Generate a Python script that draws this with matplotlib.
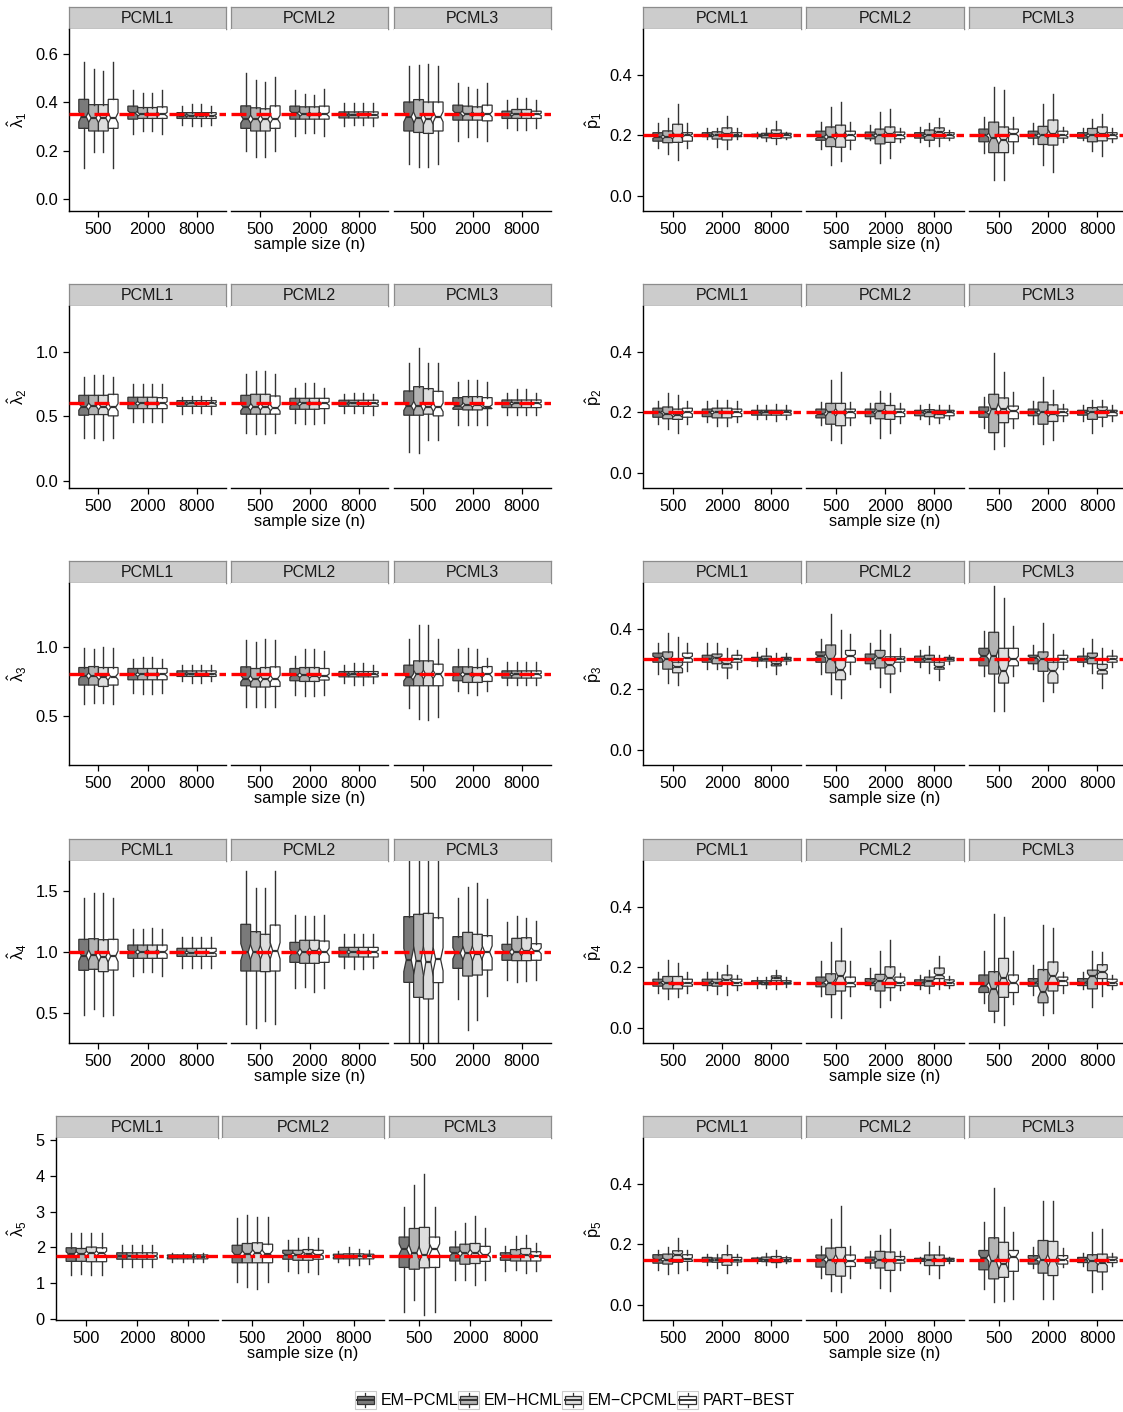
import matplotlib.pyplot as plt
import numpy as np
from matplotlib.patches import Patch, Rectangle
from matplotlib.lines import Line2D
from matplotlib.legend_handler import HandlerBase

plt.rcParams['font.family'] = ['Liberation Sans', 'DejaVu Sans']
plt.rcParams['mathtext.fontset'] = 'custom'
plt.rcParams['mathtext.rm'] = 'Liberation Sans'
plt.rcParams['mathtext.it'] = 'Liberation Sans'

methods = ['EM\u2212PCML', 'EM\u2212HCML', 'EM\u2212CPCML', 'PART\u2212BEST']
fills = ['#7a7a7a', '#b3b3b3', '#dedede', '#ffffff']
panels = ['PCML1', 'PCML2', 'PCML3']
sizes = ['500', '2000', '8000']

# each row: one (panel, n) cell, 4 boxes as (lower whisker, q1, median, q3, upper whisker)
lam1 = [
    [(0.127, 0.292, 0.34, 0.412, 0.566), (0.196, 0.281, 0.335, 0.39, 0.538), (0.196, 0.281, 0.335, 0.39, 0.531), (0.127, 0.292, 0.335, 0.412, 0.566)],
    [(0.267, 0.33, 0.355, 0.384, 0.449), (0.28, 0.333, 0.35, 0.378, 0.44), (0.28, 0.333, 0.35, 0.378, 0.44), (0.267, 0.333, 0.35, 0.381, 0.449)],
    [(0.305, 0.333, 0.345, 0.357, 0.385), (0.301, 0.333, 0.345, 0.357, 0.392), (0.301, 0.333, 0.345, 0.357, 0.392), (0.305, 0.333, 0.345, 0.357, 0.385)],
    [(0.2, 0.292, 0.33, 0.385, 0.52), (0.175, 0.281, 0.33, 0.377, 0.49), (0.175, 0.281, 0.33, 0.373, 0.484), (0.2, 0.292, 0.33, 0.385, 0.504)],
    [(0.26, 0.33, 0.355, 0.384, 0.449), (0.271, 0.33, 0.35, 0.381, 0.433), (0.271, 0.33, 0.35, 0.381, 0.429), (0.26, 0.33, 0.35, 0.384, 0.456)],
    [(0.3, 0.335, 0.347, 0.36, 0.395), (0.305, 0.335, 0.347, 0.36, 0.395), (0.305, 0.335, 0.347, 0.36, 0.395), (0.3, 0.335, 0.347, 0.36, 0.395)],
    [(0.144, 0.281, 0.34, 0.401, 0.548), (0.134, 0.275, 0.335, 0.411, 0.555), (0.134, 0.271, 0.33, 0.401, 0.559), (0.144, 0.281, 0.34, 0.401, 0.548)],
    [(0.24, 0.326, 0.355, 0.388, 0.481), (0.258, 0.326, 0.35, 0.384, 0.463), (0.258, 0.326, 0.35, 0.381, 0.456), (0.24, 0.323, 0.35, 0.388, 0.481)],
    [(0.295, 0.333, 0.348, 0.363, 0.408), (0.285, 0.333, 0.35, 0.37, 0.418), (0.285, 0.333, 0.35, 0.37, 0.418), (0.295, 0.333, 0.35, 0.363, 0.408)],
]
lam2 = [
    [(0.329, 0.509, 0.575, 0.663, 0.805), (0.329, 0.514, 0.58, 0.663, 0.823), (0.314, 0.514, 0.575, 0.663, 0.823), (0.329, 0.504, 0.57, 0.671, 0.805)],
    [(0.46, 0.56, 0.6, 0.648, 0.753), (0.46, 0.56, 0.6, 0.648, 0.753), (0.46, 0.56, 0.6, 0.648, 0.753), (0.46, 0.56, 0.6, 0.645, 0.753)],
    [(0.519, 0.578, 0.6, 0.622, 0.653), (0.525, 0.578, 0.6, 0.622, 0.66), (0.525, 0.578, 0.6, 0.622, 0.66), (0.519, 0.578, 0.6, 0.622, 0.653)],
    [(0.368, 0.517, 0.57, 0.663, 0.83), (0.36, 0.517, 0.575, 0.671, 0.851), (0.36, 0.517, 0.575, 0.671, 0.851), (0.368, 0.517, 0.565, 0.658, 0.83)],
    [(0.452, 0.555, 0.595, 0.64, 0.722), (0.44, 0.555, 0.6, 0.64, 0.756), (0.44, 0.555, 0.6, 0.64, 0.756), (0.452, 0.56, 0.6, 0.64, 0.722)],
    [(0.53, 0.578, 0.6, 0.625, 0.671), (0.53, 0.578, 0.605, 0.625, 0.68), (0.53, 0.578, 0.6, 0.625, 0.68), (0.509, 0.578, 0.6, 0.625, 0.671)],
    [(0.226, 0.509, 0.58, 0.697, 0.915), (0.216, 0.509, 0.58, 0.73, 1.031), (0.316, 0.517, 0.575, 0.715, 0.915), (0.316, 0.504, 0.57, 0.694, 0.915)],
    [(0.432, 0.555, 0.58, 0.645, 0.769), (0.434, 0.55, 0.59, 0.653, 0.779), (0.434, 0.55, 0.59, 0.653, 0.779), (0.432, 0.56, 0.575, 0.645, 0.769)],
    [(0.514, 0.568, 0.6, 0.627, 0.684), (0.514, 0.568, 0.6, 0.627, 0.71), (0.514, 0.568, 0.6, 0.627, 0.71), (0.514, 0.568, 0.6, 0.627, 0.684)],
]
lam3 = [
    [(0.588, 0.724, 0.79, 0.85, 0.993), (0.595, 0.724, 0.79, 0.857, 0.986), (0.595, 0.714, 0.78, 0.85, 1.0), (0.588, 0.724, 0.785, 0.85, 0.993)],
    [(0.667, 0.762, 0.8, 0.843, 0.91), (0.66, 0.762, 0.8, 0.843, 0.926), (0.66, 0.762, 0.8, 0.843, 0.926), (0.667, 0.762, 0.8, 0.843, 0.91)],
    [(0.752, 0.786, 0.805, 0.826, 0.867), (0.74, 0.786, 0.805, 0.826, 0.867), (0.74, 0.786, 0.805, 0.826, 0.867), (0.752, 0.786, 0.805, 0.826, 0.867)],
    [(0.569, 0.719, 0.77, 0.855, 1.045), (0.564, 0.71, 0.765, 0.843, 1.033), (0.564, 0.71, 0.765, 0.85, 1.057), (0.569, 0.714, 0.77, 0.855, 1.045)],
    [(0.652, 0.755, 0.795, 0.843, 0.933), (0.648, 0.75, 0.795, 0.85, 0.98), (0.648, 0.75, 0.79, 0.85, 0.986), (0.652, 0.76, 0.79, 0.843, 0.969)],
    [(0.738, 0.783, 0.8, 0.821, 0.867), (0.726, 0.783, 0.8, 0.821, 0.88), (0.726, 0.783, 0.8, 0.821, 0.88), (0.738, 0.783, 0.8, 0.821, 0.867)],
    [(0.56, 0.719, 0.78, 0.867, 1.052), (0.481, 0.719, 0.8, 0.898, 1.152), (0.474, 0.719, 0.8, 0.898, 1.152), (0.493, 0.719, 0.8, 0.874, 1.052)],
    [(0.681, 0.755, 0.8, 0.855, 0.986), (0.664, 0.743, 0.8, 0.855, 0.993), (0.655, 0.743, 0.795, 0.85, 0.986), (0.681, 0.75, 0.8, 0.857, 0.921)],
    [(0.724, 0.774, 0.8, 0.826, 0.893), (0.724, 0.774, 0.8, 0.826, 0.893), (0.724, 0.774, 0.8, 0.826, 0.893), (0.724, 0.774, 0.8, 0.826, 0.893)],
]
lam4 = [
    [(0.484, 0.85, 0.97, 1.104, 1.44), (0.53, 0.858, 0.975, 1.109, 1.481), (0.475, 0.839, 0.96, 1.101, 1.481), (0.484, 0.852, 0.965, 1.104, 1.44)],
    [(0.806, 0.948, 1.0, 1.057, 1.189), (0.833, 0.948, 1.0, 1.057, 1.189), (0.833, 0.948, 1.0, 1.057, 1.2), (0.806, 0.948, 1.0, 1.057, 1.189)],
    [(0.872, 0.964, 0.995, 1.03, 1.12), (0.865, 0.964, 0.995, 1.03, 1.125), (0.865, 0.964, 0.995, 1.03, 1.125), (0.872, 0.964, 0.995, 1.03, 1.12)],
    [(0.41, 0.844, 1.0, 1.227, 1.664), (0.38, 0.844, 1.0, 1.167, 1.522), (0.434, 0.839, 0.995, 1.145, 1.522), (0.41, 0.844, 1.01, 1.221, 1.664)],
    [(0.702, 0.915, 0.995, 1.079, 1.303), (0.716, 0.907, 1.0, 1.096, 1.295), (0.675, 0.907, 1.005, 1.096, 1.295), (0.702, 0.915, 1.0, 1.09, 1.303)],
    [(0.872, 0.959, 1.0, 1.038, 1.145), (0.858, 0.959, 1.0, 1.038, 1.148), (0.858, 0.959, 1.0, 1.038, 1.148), (0.872, 0.959, 1.0, 1.038, 1.145)],
    [(-0.1, 0.751, 0.935, 1.29, 2.0), (-0.2, 0.628, 0.93, 1.309, 2.1), (-0.2, 0.615, 0.92, 1.317, 2.1), (-0.1, 0.749, 0.94, 1.281, 2.0)],
    [(0.615, 0.866, 0.99, 1.126, 1.44), (0.361, 0.803, 0.99, 1.161, 1.536), (0.443, 0.811, 0.985, 1.145, 1.563), (0.642, 0.852, 1.0, 1.134, 1.434)],
    [(0.77, 0.932, 1.0, 1.063, 1.243), (0.751, 0.929, 1.0, 1.112, 1.295), (0.762, 0.929, 1.005, 1.117, 1.281), (0.77, 0.932, 1.01, 1.068, 1.254)],
]
lam5 = [
    [(1.22, 1.61, 1.81, 1.99, 2.41), (1.25, 1.61, 1.82, 1.97, 2.41), (1.22, 1.6, 1.83, 2.01, 2.41), (1.22, 1.6, 1.83, 1.99, 2.41)],
    [(1.46, 1.67, 1.76, 1.85, 2.08), (1.46, 1.67, 1.76, 1.85, 2.08), (1.46, 1.67, 1.76, 1.85, 2.08), (1.46, 1.67, 1.76, 1.85, 2.08)],
    [(1.6, 1.68, 1.74, 1.79, 1.85), (1.6, 1.68, 1.74, 1.79, 1.85), (1.6, 1.68, 1.74, 1.79, 1.85), (1.6, 1.68, 1.74, 1.79, 1.85)],
    [(1.04, 1.57, 1.8, 2.06, 2.83), (0.88, 1.57, 1.82, 2.11, 2.9), (0.83, 1.57, 1.85, 2.13, 2.85), (1.04, 1.57, 1.82, 2.09, 2.85)],
    [(1.34, 1.67, 1.8, 1.92, 2.2), (1.29, 1.64, 1.8, 1.92, 2.27), (1.3, 1.64, 1.82, 1.94, 2.28), (1.27, 1.67, 1.8, 1.92, 2.27)],
    [(1.58, 1.68, 1.75, 1.81, 1.9), (1.5, 1.68, 1.75, 1.82, 2.01), (1.5, 1.68, 1.75, 1.82, 1.95), (1.55, 1.68, 1.75, 1.81, 1.93)],
    [(0.2, 1.44, 1.95, 2.29, 3.13), (0.54, 1.39, 1.85, 2.53, 3.74), (0.12, 1.43, 1.8, 2.56, 4.04), (0.2, 1.44, 1.95, 2.29, 3.13)],
    [(1.08, 1.62, 1.83, 2.01, 2.45), (1.08, 1.53, 1.83, 2.09, 2.67), (0.94, 1.55, 1.85, 2.11, 2.87), (1.08, 1.61, 1.8, 2.03, 2.55)],
    [(1.34, 1.64, 1.75, 1.85, 2.03), (1.36, 1.62, 1.76, 1.94, 2.32), (1.29, 1.62, 1.78, 1.97, 2.36), (1.33, 1.62, 1.76, 1.88, 2.11)],
]
p1 = [
    [(0.157, 0.181, 0.195, 0.209, 0.242), (0.137, 0.176, 0.195, 0.215, 0.256), (0.119, 0.177, 0.2, 0.237, 0.303), (0.157, 0.181, 0.2, 0.209, 0.242)],
    [(0.187, 0.196, 0.2, 0.209, 0.223), (0.163, 0.188, 0.2, 0.212, 0.225), (0.154, 0.185, 0.205, 0.225, 0.264), (0.187, 0.196, 0.2, 0.209, 0.223)],
    [(0.19, 0.196, 0.2, 0.204, 0.212), (0.181, 0.192, 0.2, 0.207, 0.223), (0.17, 0.19, 0.205, 0.218, 0.248), (0.187, 0.192, 0.2, 0.207, 0.212)],
    [(0.154, 0.184, 0.195, 0.214, 0.246), (0.101, 0.163, 0.195, 0.228, 0.294), (0.117, 0.161, 0.2, 0.234, 0.31), (0.154, 0.184, 0.2, 0.214, 0.246)],
    [(0.184, 0.189, 0.2, 0.211, 0.234), (0.11, 0.172, 0.2, 0.221, 0.276), (0.124, 0.177, 0.205, 0.228, 0.287), (0.179, 0.189, 0.2, 0.211, 0.225)],
    [(0.179, 0.191, 0.2, 0.209, 0.228), (0.166, 0.184, 0.2, 0.218, 0.241), (0.166, 0.191, 0.21, 0.225, 0.257), (0.184, 0.191, 0.2, 0.209, 0.218)],
    [(0.143, 0.179, 0.2, 0.221, 0.26), (0.053, 0.143, 0.19, 0.244, 0.359), (0.053, 0.143, 0.185, 0.228, 0.349), (0.143, 0.179, 0.205, 0.221, 0.26)],
    [(0.172, 0.191, 0.2, 0.214, 0.241), (0.101, 0.17, 0.2, 0.23, 0.303), (0.078, 0.168, 0.205, 0.251, 0.336), (0.177, 0.191, 0.2, 0.214, 0.228)],
    [(0.184, 0.191, 0.2, 0.209, 0.225), (0.149, 0.179, 0.2, 0.223, 0.253), (0.133, 0.182, 0.205, 0.228, 0.271), (0.179, 0.189, 0.2, 0.209, 0.225)],
]
p2 = [
    [(0.161, 0.184, 0.2, 0.214, 0.239), (0.145, 0.179, 0.195, 0.218, 0.264), (0.131, 0.177, 0.19, 0.211, 0.257), (0.161, 0.184, 0.2, 0.214, 0.239)],
    [(0.168, 0.186, 0.2, 0.211, 0.237), (0.156, 0.182, 0.2, 0.214, 0.241), (0.156, 0.182, 0.2, 0.214, 0.241), (0.168, 0.186, 0.2, 0.211, 0.237)],
    [(0.179, 0.191, 0.2, 0.207, 0.225), (0.179, 0.191, 0.2, 0.207, 0.225), (0.172, 0.191, 0.2, 0.207, 0.228), (0.179, 0.191, 0.2, 0.207, 0.225)],
    [(0.159, 0.182, 0.195, 0.211, 0.234), (0.11, 0.161, 0.2, 0.23, 0.308), (0.099, 0.156, 0.2, 0.23, 0.333), (0.159, 0.182, 0.2, 0.211, 0.234)],
    [(0.166, 0.186, 0.2, 0.211, 0.23), (0.117, 0.179, 0.205, 0.23, 0.271), (0.131, 0.177, 0.2, 0.223, 0.264), (0.166, 0.186, 0.2, 0.211, 0.23)],
    [(0.177, 0.189, 0.2, 0.207, 0.223), (0.163, 0.186, 0.2, 0.209, 0.228), (0.166, 0.182, 0.195, 0.207, 0.223), (0.177, 0.189, 0.2, 0.207, 0.223)],
    [(0.147, 0.184, 0.2, 0.218, 0.251), (0.08, 0.133, 0.21, 0.26, 0.398), (0.09, 0.166, 0.21, 0.248, 0.333), (0.149, 0.179, 0.205, 0.221, 0.269)],
    [(0.163, 0.189, 0.2, 0.211, 0.237), (0.094, 0.161, 0.2, 0.234, 0.317), (0.108, 0.17, 0.195, 0.225, 0.274), (0.172, 0.189, 0.2, 0.211, 0.228)],
    [(0.172, 0.191, 0.2, 0.207, 0.223), (0.133, 0.177, 0.2, 0.216, 0.241), (0.156, 0.184, 0.205, 0.218, 0.241), (0.172, 0.189, 0.2, 0.207, 0.223)],
]
p3 = [
    [(0.251, 0.29, 0.305, 0.32, 0.352), (0.221, 0.267, 0.3, 0.324, 0.386), (0.214, 0.255, 0.275, 0.29, 0.375), (0.26, 0.29, 0.305, 0.32, 0.352)],
    [(0.267, 0.29, 0.3, 0.313, 0.352), (0.267, 0.285, 0.305, 0.317, 0.352), (0.237, 0.271, 0.285, 0.297, 0.336), (0.267, 0.29, 0.3, 0.313, 0.329)],
    [(0.278, 0.294, 0.3, 0.306, 0.324), (0.274, 0.294, 0.3, 0.31, 0.336), (0.251, 0.278, 0.285, 0.294, 0.32), (0.283, 0.294, 0.3, 0.306, 0.32)],
    [(0.251, 0.29, 0.31, 0.324, 0.366), (0.186, 0.255, 0.3, 0.347, 0.451), (0.17, 0.232, 0.265, 0.301, 0.398), (0.251, 0.29, 0.31, 0.329, 0.382)],
    [(0.267, 0.285, 0.3, 0.317, 0.352), (0.209, 0.271, 0.305, 0.329, 0.398), (0.191, 0.251, 0.28, 0.308, 0.382), (0.262, 0.29, 0.3, 0.308, 0.338)],
    [(0.274, 0.29, 0.3, 0.31, 0.329), (0.255, 0.29, 0.3, 0.313, 0.343), (0.232, 0.267, 0.275, 0.29, 0.313), (0.283, 0.294, 0.3, 0.306, 0.313)],
    [(0.244, 0.278, 0.31, 0.336, 0.393), (0.129, 0.251, 0.31, 0.389, 0.543), (0.129, 0.221, 0.26, 0.336, 0.503), (0.244, 0.278, 0.3, 0.336, 0.409)],
    [(0.267, 0.285, 0.305, 0.313, 0.347), (0.163, 0.26, 0.3, 0.324, 0.421), (0.191, 0.221, 0.26, 0.29, 0.382), (0.267, 0.29, 0.3, 0.313, 0.329)],
    [(0.278, 0.29, 0.3, 0.31, 0.336), (0.255, 0.285, 0.305, 0.32, 0.366), (0.205, 0.251, 0.265, 0.283, 0.336), (0.274, 0.29, 0.3, 0.31, 0.329)],
]
p4 = [
    [(0.117, 0.138, 0.15, 0.161, 0.186), (0.094, 0.129, 0.148, 0.17, 0.225), (0.101, 0.129, 0.145, 0.17, 0.216), (0.117, 0.138, 0.148, 0.161, 0.186)],
    [(0.124, 0.14, 0.15, 0.161, 0.184), (0.113, 0.138, 0.15, 0.161, 0.184), (0.11, 0.145, 0.16, 0.175, 0.209), (0.124, 0.14, 0.15, 0.161, 0.175)],
    [(0.133, 0.145, 0.15, 0.156, 0.168), (0.133, 0.143, 0.15, 0.156, 0.168), (0.129, 0.156, 0.165, 0.172, 0.191), (0.136, 0.145, 0.15, 0.156, 0.168)],
    [(0.106, 0.136, 0.15, 0.168, 0.221), (0.037, 0.11, 0.15, 0.179, 0.283), (0.032, 0.122, 0.17, 0.221, 0.331), (0.106, 0.136, 0.148, 0.168, 0.221)],
    [(0.129, 0.14, 0.15, 0.163, 0.198), (0.069, 0.122, 0.155, 0.177, 0.253), (0.092, 0.133, 0.165, 0.202, 0.29), (0.124, 0.14, 0.15, 0.168, 0.182)],
    [(0.129, 0.14, 0.15, 0.159, 0.175), (0.117, 0.138, 0.155, 0.168, 0.191), (0.129, 0.163, 0.175, 0.198, 0.237), (0.133, 0.14, 0.15, 0.159, 0.17)],
    [(0.083, 0.117, 0.14, 0.175, 0.255), (0.018, 0.055, 0.13, 0.186, 0.377), (0.009, 0.101, 0.165, 0.23, 0.366), (0.078, 0.117, 0.15, 0.175, 0.255)],
    [(0.11, 0.138, 0.15, 0.163, 0.209), (0.041, 0.083, 0.12, 0.193, 0.34), (0.048, 0.122, 0.17, 0.218, 0.331), (0.117, 0.14, 0.155, 0.168, 0.186)],
    [(0.129, 0.14, 0.15, 0.163, 0.186), (0.069, 0.129, 0.17, 0.191, 0.253), (0.106, 0.163, 0.185, 0.209, 0.25), (0.129, 0.14, 0.15, 0.161, 0.175)],
]
p5 = [
    [(0.116, 0.138, 0.15, 0.166, 0.182), (0.102, 0.135, 0.15, 0.168, 0.193), (0.105, 0.141, 0.165, 0.179, 0.221), (0.116, 0.144, 0.152, 0.166, 0.182)],
    [(0.131, 0.142, 0.148, 0.157, 0.168), (0.122, 0.141, 0.148, 0.155, 0.168), (0.105, 0.131, 0.145, 0.166, 0.199), (0.131, 0.142, 0.148, 0.157, 0.168)],
    [(0.138, 0.144, 0.15, 0.155, 0.16), (0.131, 0.143, 0.15, 0.158, 0.171), (0.125, 0.14, 0.15, 0.16, 0.18), (0.138, 0.143, 0.15, 0.156, 0.162)],
    [(0.089, 0.125, 0.15, 0.165, 0.196), (0.045, 0.1, 0.15, 0.188, 0.284), (0.042, 0.095, 0.15, 0.19, 0.327), (0.089, 0.127, 0.145, 0.165, 0.196)],
    [(0.122, 0.138, 0.148, 0.158, 0.177), (0.056, 0.122, 0.148, 0.177, 0.232), (0.045, 0.114, 0.145, 0.175, 0.252), (0.114, 0.138, 0.148, 0.16, 0.177)],
    [(0.138, 0.144, 0.15, 0.154, 0.16), (0.103, 0.13, 0.148, 0.165, 0.209), (0.089, 0.13, 0.15, 0.165, 0.196), (0.14, 0.144, 0.15, 0.154, 0.158)],
    [(0.054, 0.116, 0.155, 0.18, 0.274), (0.009, 0.086, 0.145, 0.222, 0.386), (0.014, 0.091, 0.135, 0.207, 0.323), (0.018, 0.111, 0.16, 0.18, 0.242)],
    [(0.122, 0.135, 0.15, 0.163, 0.19), (0.021, 0.105, 0.15, 0.213, 0.343), (0.018, 0.097, 0.145, 0.21, 0.345), (0.124, 0.135, 0.15, 0.163, 0.188)],
    [(0.127, 0.14, 0.15, 0.157, 0.171), (0.043, 0.113, 0.145, 0.166, 0.24), (0.051, 0.109, 0.14, 0.168, 0.252), (0.127, 0.14, 0.15, 0.158, 0.171)],
]

lam_true = [0.35, 0.6, 0.8, 1.0, 1.75]
p_true = [0.2, 0.2, 0.3, 0.15, 0.15]

W, H = 1123, 1412
fig = plt.figure(figsize=(W / 100, H / 100), dpi=100)
dark = '#333333'


def px_axes(x0, y0, w, h):
    return fig.add_axes([x0 / W, 1 - (y0 + h) / H, w / W, h / H])


def draw_row(stats, truth, ylim, yticks, ylabels, ylab, lefts, width, top, dash, lab_x):
    for k, left in enumerate(lefts):
        # strip
        sax = px_axes(left, top, width, 22)
        sax.set_facecolor('#cccccc')
        sax.set_xticks([]); sax.set_yticks([])
        for s in sax.spines.values():
            s.set_color('#8c8c8c'); s.set_linewidth(0.9)
        sax.text(0.5, 0.48, panels[k], ha='center', va='center', fontsize=11.5, color='#1a1a1a')

        ax = px_axes(left, top + 22, width, 182)
        bx, pos, cols = [], [], []
        for j in range(3):
            for m in range(4):
                lo, q1, med, q3, hi = stats[3 * k + j][m]
                ci = 1.58 * (q3 - q1) / np.sqrt(80)
                bx.append(dict(whislo=lo, q1=q1, med=med, q3=q3, whishi=hi,
                               cilo=med - ci, cihi=med + ci, fliers=[]))
                pos.append(j + 1 + (m - 1.5) * 0.2)
                cols.append(fills[m])
        art = ax.bxp(bx, positions=pos, widths=0.2, shownotches=True, patch_artist=True,
                     showcaps=False, showfliers=False, manage_ticks=False,
                     boxprops=dict(edgecolor=dark, linewidth=0.9),
                     whiskerprops=dict(color=dark, linewidth=1.0),
                     medianprops=dict(color=dark, linewidth=1.6))
        for b, c in zip(art['boxes'], cols):
            b.set_facecolor(c)
        ax.axhline(truth, color='red', lw=2.4, ls=dash, zorder=6)

        ax.set_xlim(0.4, 3.6)
        ax.set_ylim(*ylim)
        ax.set_xticks([1, 2, 3])
        ax.set_xticklabels(sizes)
        for s in ['top', 'right']:
            ax.spines[s].set_visible(False)
        ax.spines['bottom'].set_linewidth(1.0)
        ax.spines['left'].set_linewidth(1.0)
        ax.tick_params(axis='both', length=4, width=0.9, labelsize=11.8, colors='black', pad=4)
        if k == 0:
            ax.set_yticks(yticks)
            ax.set_yticklabels(ylabels)
        else:
            ax.spines['left'].set_visible(False)
            ax.set_yticks([])
        if k == 1:
            ax.set_xlabel('sample size (n)', fontsize=11.8, labelpad=0)
    fig.text(lab_x / W, 1 - (top + 22 + 91) / H, ylab, rotation=90, ha='center', va='center', fontsize=12)


tops = [7, 284, 561, 839, 1116]
dashed = (0, (4.5, 3))
lam_sets = [lam1, lam2, lam3, lam4, lam5]
lam_lims = [(-0.05, 0.703), (-0.054, 1.354), (0.15, 1.457), (0.254, 1.746), (-0.03, 5.06)]
lam_ticks = [[0, 0.2, 0.4, 0.6], [0, 0.5, 1.0], [0.5, 1.0], [0.5, 1.0, 1.5], [0, 1, 2, 3, 4, 5]]
lam_tlabs = [['0.0', '0.2', '0.4', '0.6'], ['0.0', '0.5', '1.0'], ['0.5', '1.0'],
             ['0.5', '1.0', '1.5'], ['0', '1', '2', '3', '4', '5']]
p_sets = [p1, p2, p3, p4, p5]

for r in range(5):
    if r < 4:
        lefts, width, dash = [69, 231, 394], 157, dashed
    else:
        lefts, width, dash = [56, 222, 389], 162, (0, (7, 1.4, 1.4, 1.4))
    draw_row(lam_sets[r], lam_true[r], lam_lims[r], lam_ticks[r], lam_tlabs[r],
             r'$\hat{\lambda}_{%d}$' % (r + 1), lefts, width, tops[r], dash, 17)
    draw_row(p_sets[r], p_true[r], (-0.05, 0.552), [0, 0.2, 0.4], ['0.0', '0.2', '0.4'],
             r'$\hat{p}_{%d}$' % (r + 1), [643, 806, 969], 158, tops[r], dashed, 594)


class BoxKey(HandlerBase):
    def create_artists(self, legend, orig_handle, xdescent, ydescent, width, height, fontsize, trans):
        x0, y0 = -xdescent, -ydescent
        bg = Rectangle((x0, y0), width, height, facecolor='white', edgecolor='#cccccc', lw=0.8, transform=trans)
        wh = Line2D([x0 + width / 2] * 2, [y0 + 0.08 * height, y0 + 0.92 * height], color=dark, lw=0.9, transform=trans)
        bx = Rectangle((x0 + 0.1 * width, y0 + 0.25 * height), 0.8 * width, 0.5 * height,
                       facecolor=orig_handle.get_facecolor(), edgecolor=dark, lw=0.9, transform=trans)
        md = Line2D([x0 + 0.1 * width, x0 + 0.9 * width], [y0 + height / 2] * 2, color=dark, lw=1.4, transform=trans)
        return [bg, wh, bx, md]


handles = [Patch(facecolor=c) for c in fills]
fig.legend(handles, methods, handler_map={Patch: BoxKey()}, loc='center',
           bbox_to_anchor=(575 / W, 1 - 1400 / H), ncol=4, frameon=False, fontsize=11.5,
           handlelength=1.3, handleheight=1.3, handletextpad=0.3, columnspacing=0.0)

fig.savefig('out.png', dpi=100)
